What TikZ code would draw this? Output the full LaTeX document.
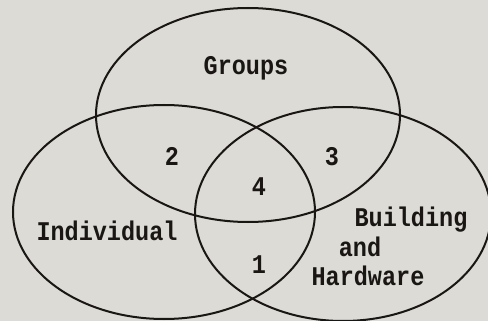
\documentclass[tikz,border=0pt]{standalone}
\usepackage{fontspec}
\newfontfamily\typew[FakeStretch=0.87]{Liberation Mono}
\usetikzlibrary{shapes.geometric}
\definecolor{paper}{RGB}{220,219,213}
\definecolor{ink}{RGB}{25,22,20}
\begin{document}
\begin{tikzpicture}[x=1pt,y=-1pt,
  circ/.style={draw=ink,line width=2pt},
  lbl/.style={text=ink,font=\typew\bfseries\fontsize{27}{30}\selectfont,inner sep=0pt,anchor=base}]
\fill[paper] (0,0) rectangle (488,321);
\useasboundingbox (0,0) rectangle (488,321);
\draw[circ] (248,115) ellipse [x radius=152, y radius=107];
\draw[circ] (164,212) ellipse [x radius=151, y radius=107];
\draw[circ] (343,214) ellipse [x radius=148, y radius=107];
\node[lbl] (groups) at (246,75) {Groups};
\node[lbl] (n2) at (172,165) {2};
\node[lbl] (n3) at (332,165) {3};
\node[lbl] (n4) at (259,196) {4};
\node[lbl] (n1) at (259,273) {1};
\node[lbl] (indiv) at (107,240) {Individual};
\node[lbl] (build) at (411,226) {Building};
\node[lbl] (and) at (360,256) {and};
\node[lbl] (hard) at (368,285) {Hardware};
\end{tikzpicture}
\end{document}
